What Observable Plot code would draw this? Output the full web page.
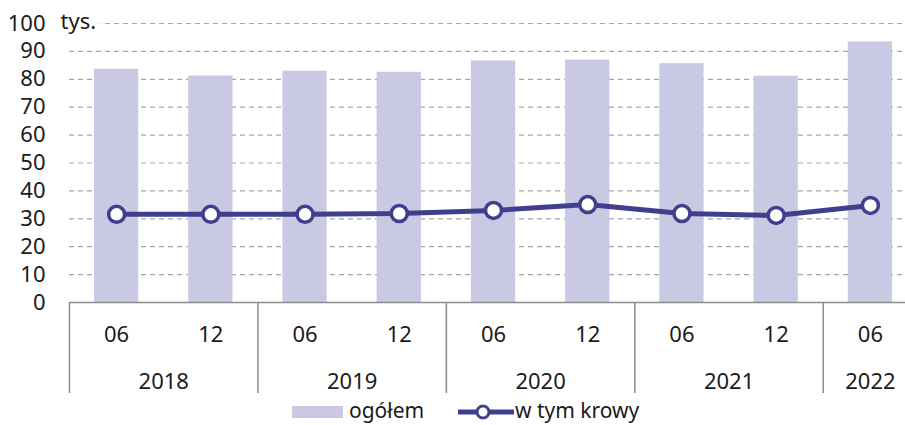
<!DOCTYPE html>
<html>
<head>
<meta charset="utf-8">
<script src="https://cdn.jsdelivr.net/npm/d3@7"></script>
<script src="https://cdn.jsdelivr.net/npm/@observablehq/plot@0.6"></script>
<style>
  html, body { margin: 0; padding: 0; background: #fff; overflow: hidden; width: 905px; height: 425px; }
  #chart { position: relative; width: 905px; height: 425px; overflow: hidden; }
  #chart svg { max-width: none !important; display: block; }
  .legend { position: absolute; top: 396px; left: 0; width: 905px; height: 28px; font-family: "Noto Sans", sans-serif; font-size: 21px; line-height: 24px; color: #1a1a1a; }
  .legend .item { position: absolute; top: 0; display: flex; align-items: center; height: 28px; white-space: nowrap; }
</style>
</head>
<body>
<div id="chart"></div>
<script>
const months = ["06", "12", "06", "12", "06", "12", "06", "12", "06"];
const years  = ["2018", "2018", "2019", "2019", "2020", "2020", "2021", "2021", "2022"];
const ogolem = [83.6, 81.2, 82.9, 82.5, 86.6, 86.9, 85.6, 81.1, 93.4];
const krowy  = [31.6, 31.6, 31.6, 31.9, 33.0, 35.1, 31.9, 31.2, 34.8];
const yTicks = [0, 10, 20, 30, 40, 50, 60, 70, 80, 90, 100];

const barColor = "#c9c9e3";
const lineColor = "#3f3f8e";
const textColor = "#1a1a1a";
const fontFamily = "Noto Sans, sans-serif";
const fs = 22;

const data = months.map((m, i) => ({ i, month: m, year: years[i], ogolem: ogolem[i], krowy: krowy[i] }));

const yearGroups = Array.from(d3.group(data, d => d.year), ([year, rows]) => ({
  year,
  center: d3.mean(rows, r => r.i),
  start: d3.min(rows, r => r.i) - 0.5
}));
const separators = yearGroups.map(g => g.start).concat([data.length - 0.5]);

const halfBar = 0.235;

const chart = Plot.plot({
  width: 917,
  height: 395,
  marginLeft: 69,
  marginRight: 0,
  marginTop: 23,
  marginBottom: 93,
  style: { fontFamily, fontSize: fs + "px", color: textColor, background: "white", maxWidth: "none" },
  x: { domain: [-0.5, data.length - 0.5], axis: null },
  y: { domain: [0, 100], axis: null },
  marks: [
    Plot.ruleY(yTicks.filter(t => t > 0), { stroke: "#a6a6a6", strokeWidth: 1.2, strokeDasharray: "5,4" }),
    Plot.rectY(data, { x1: d => d.i - halfBar, x2: d => d.i + halfBar, y: "ogolem", fill: barColor }),
    Plot.ruleY([0], { stroke: "#8c8c8c", strokeWidth: 1.5 }),
    Plot.ruleX(separators, { y1: 0, y2: 0, stroke: "#8c8c8c", strokeWidth: 1.5, insetBottom: -91 }),
    Plot.text(yTicks, { x: -0.5, y: d => d, text: d => String(d), textAnchor: "end", dx: -24, fill: textColor, fontSize: fs }),
    Plot.text(["tys."], { x: -0.5, y: 100, text: d => d, textAnchor: "start", dx: -9, dy: -2, fill: textColor, fontSize: fs, stroke: "white", strokeWidth: 14, paintOrder: "stroke" }),
    Plot.line(data, { x: "i", y: "krowy", stroke: lineColor, strokeWidth: 5 }),
    Plot.dot(data, { x: "i", y: "krowy", r: 8, fill: "white", stroke: lineColor, strokeWidth: 3.5 }),
    Plot.text(data, { x: "i", y: 0, text: "month", dy: 32, fill: textColor, fontSize: fs }),
    Plot.text(yearGroups, { x: "center", y: 0, text: "year", dy: 79, fill: textColor, fontSize: fs })
  ]
});

const wrap = document.getElementById("chart");
wrap.appendChild(chart);

const legend = document.createElement("div");
legend.className = "legend";
legend.innerHTML = `
  <div class="item" style="left:292px">
    <span style="display:inline-block;width:51px;height:12px;background:${barColor};margin-right:6px;margin-top:3px"></span><span>ogółem</span>
  </div>
  <div class="item" style="left:458px">
    <svg width="56" height="20" style="margin-right:1px;margin-top:3px"><line x1="0" y1="10" x2="56" y2="10" stroke="${lineColor}" stroke-width="5"/><circle cx="25" cy="10" r="6" fill="white" stroke="${lineColor}" stroke-width="3"/></svg><span>w tym krowy</span>
  </div>`;
wrap.appendChild(legend);
</script>
</body>
</html>
